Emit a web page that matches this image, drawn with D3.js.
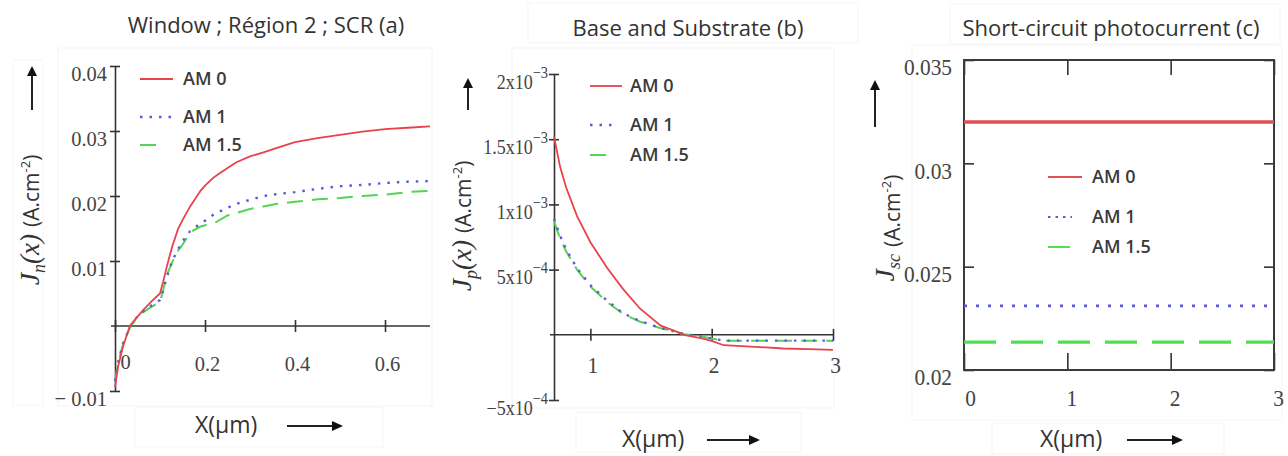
<!DOCTYPE html>
<html>
<head>
<meta charset="utf-8">
<script src="https://cdn.jsdelivr.net/npm/d3@7"></script>
<style>
  html, body { margin: 0; padding: 0; background: #fff; }
  svg { display: block; }
</style>
</head>
<body>
<svg id="chart" width="1288" height="456"></svg>
<script>
// ---- series shared by the three panels ----
const seriesNames = ["AM 0", "AM 1", "AM 1.5"];

// ---- (a) window, region 2 and SCR : electron photocurrent density ----
const xWindow = [0, 0.007, 0.018, 0.033, 0.048, 0.062, 0.08, 0.1, 0.107, 0.115, 0.127, 0.14, 0.15,
  0.167, 0.19, 0.2, 0.22, 0.25, 0.27, 0.3, 0.33, 0.36, 0.4, 0.45, 0.5, 0.55, 0.6, 0.65, 0.7];
const jnAM0 = [-0.0094, -0.0062, -0.0031, 0.0000, 0.0013, 0.0024, 0.0037, 0.0050, 0.0068, 0.0091, 0.0122, 0.0149, 0.0163,
  0.0184, 0.0208, 0.0216, 0.0229, 0.0243, 0.0252, 0.0261, 0.0267, 0.0274, 0.0283, 0.0289, 0.0294, 0.0299, 0.0303, 0.0305, 0.0307];
const jnAM1 = [-0.0085, -0.0055, -0.0027, -0.0002, 0.0013, 0.0022, 0.0031, 0.0040, 0.0055, 0.0075, 0.0100, 0.0118, 0.0130,
  0.0146, 0.0158, 0.0162, 0.0172, 0.0182, 0.0188, 0.0194, 0.0200, 0.0203, 0.0206, 0.0211, 0.0215, 0.0217, 0.0220, 0.0222, 0.0223];
const jnAM15 = [-0.0085, -0.0056, -0.0028, -0.0003, 0.0012, 0.0021, 0.0029, 0.0037, 0.0055, 0.0078, 0.0098, 0.0116, 0.0125,
  0.0144, 0.0153, 0.0155, 0.0158, 0.0170, 0.0174, 0.0180, 0.0184, 0.0188, 0.0191, 0.0195, 0.0197, 0.0200, 0.0202, 0.0206, 0.0208];
const xTicksA = [0, 0.2, 0.4, 0.6];
const yTicksA = [-0.01, 0.01, 0.02, 0.03, 0.04];

// ---- (b) base and substrate : hole photocurrent density ----
const xBase = [0.7, 0.75, 0.8, 0.89, 1.0, 1.14, 1.27, 1.41, 1.58, 1.72, 1.77, 1.93, 2.01, 2.1, 2.32, 2.59, 2.8, 3.0];
const jpAM0 = [1.52e-3, 1.29e-3, 1.13e-3, 0.91e-3, 0.71e-3, 0.51e-3, 0.35e-3, 0.20e-3, 0.07e-3, 0.02e-3, 0,
  -0.03e-3, -0.05e-3, -0.08e-3, -0.09e-3, -0.105e-3, -0.11e-3, -0.115e-3];
const jpAM1 = [0.89e-3, 0.76e-3, 0.655e-3, 0.51e-3, 0.38e-3, 0.26e-3, 0.165e-3, 0.105e-3, 0.052e-3, 0.02e-3, 0.005e-3,
  -0.015e-3, -0.03e-3, -0.045e-3, -0.045e-3, -0.045e-3, -0.045e-3, -0.045e-3];
const jpAM15 = [0.87e-3, 0.74e-3, 0.64e-3, 0.50e-3, 0.37e-3, 0.25e-3, 0.16e-3, 0.10e-3, 0.05e-3, 0.02e-3, 0.005e-3,
  -0.015e-3, -0.03e-3, -0.045e-3, -0.045e-3, -0.045e-3, -0.045e-3, -0.045e-3];
const xTicksB = [1, 2, 3];
const yTicksB = [-5e-4, 5e-4, 1e-3, 1.5e-3, 2e-3];

// ---- (c) short-circuit photocurrent ----
const xJsc = [0, 3];
const jscAM0 = [0.0320, 0.0320];
const jscAM1 = [0.0231, 0.0231];
const jscAM15 = [0.02135, 0.02135];
const xTicksC = [0, 1, 2, 3];
const yTicksC = [0.02, 0.025, 0.03, 0.035];

// ---- styling ----
const colors = ["#e8434b", "#5b5bd9", "#52d552"];
const sansFont = "'Open Sans', Lato, sans-serif";
const serifFont = "'Liberation Serif', 'DejaVu Serif', serif";
const axisColor = "#333";

const svg = d3.select("#chart");
svg.append("rect").attr("width", 1288).attr("height", 456).attr("fill", "#fff");

// faint frames around the pasted panel pieces
const frames = [
  [58, 48, 374, 358], [13, 60, 30, 345], [135, 407, 248, 40],
  [512, 48, 322, 360], [576, 412, 225, 40], [528, 3, 330, 40],
  [912, 45, 370, 375], [992, 423, 232, 31], [950, 4, 330, 40]
];
svg.append("g").selectAll("rect").data(frames).join("rect")
  .attr("x", d => d[0]).attr("y", d => d[1]).attr("width", d => d[2]).attr("height", d => d[3])
  .attr("fill", "none").attr("stroke", "#f5f5f5").attr("stroke-width", 1);

function title(x, y, txt) {
  svg.append("text").attr("x", x).attr("y", y).attr("text-anchor", "middle")
    .attr("font-family", sansFont).attr("font-size", 22).attr("fill", "#333").text(txt);
}

function upArrow(x, y0, y1) {
  svg.append("line").attr("x1", x).attr("x2", x).attr("y1", y0).attr("y2", y1 + 8)
    .attr("stroke", "#222").attr("stroke-width", 2);
  svg.append("path").attr("d", `M${x - 5},${y1 + 10}L${x},${y1}L${x + 5},${y1 + 10}Z`).attr("fill", "#111");
}

function xLabel(x, y, arrowX0, arrowX1) {
  svg.append("text").attr("x", x).attr("y", y).attr("font-family", sansFont)
    .attr("font-size", 23).attr("fill", "#333").text("X(\u00b5m)");
  const ay = y - 7;
  svg.append("line").attr("x1", arrowX0).attr("x2", arrowX1 - 8).attr("y1", ay).attr("y2", ay)
    .attr("stroke", "#222").attr("stroke-width", 2);
  svg.append("path").attr("d", `M${arrowX1 - 11},${ay - 5}L${arrowX1},${ay}L${arrowX1 - 11},${ay + 5}Z`).attr("fill", "#111");
}

// rotated quantity label: italic symbol with subscript, then unit
function yLabel(x, y, sub, withX) {
  const t = svg.append("text").attr("transform", `translate(${x},${y}) rotate(-90)`)
    .attr("text-anchor", "middle").attr("fill", "#333");
  t.append("tspan").attr("font-family", serifFont).attr("font-style", "italic").attr("font-size", 28).text("J");
  t.append("tspan").attr("font-family", serifFont).attr("font-style", "italic").attr("font-size", 18)
    .attr("dy", 6).text(sub);
  t.append("tspan").attr("font-family", serifFont).attr("font-style", "italic").attr("font-size", 27)
    .attr("dy", -6).text(withX ? "(x)" : "");
  t.append("tspan").attr("font-family", sansFont).attr("font-size", 21).attr("dx", 7).text("(A.cm");
  t.append("tspan").attr("font-family", sansFont).attr("font-size", 13).attr("dy", -9).text("-2");
  t.append("tspan").attr("font-family", sansFont).attr("font-size", 21).attr("dy", 9).text(")");
}

function legend(items, x, ys, lens, tx) {
  const g = svg.append("g");
  items.forEach((it, i) => {
    g.append("line").attr("x1", x).attr("x2", x + lens[i]).attr("y1", ys[i]).attr("y2", ys[i])
      .attr("stroke", it.color).attr("stroke-width", it.width).attr("stroke-dasharray", it.dash || null);
    g.append("text").attr("x", tx).attr("y", ys[i]).attr("dy", "0.36em")
      .attr("font-family", sansFont).attr("font-weight", 600).attr("font-size", 18).attr("fill", "#3a3a3a")
      .text(it.name);
  });
}

// serif tick labels, slightly condensed
function styleTickText(sel, anchor, dx, dy, size) {
  sel.selectAll(".tick text").each(function () {
    const t = d3.select(this);
    const tx = +t.attr("x") || 0;
    const ty = +t.attr("y") || 0;
    t.attr("x", 0).attr("y", 0).attr("dy", null)
      .attr("transform", `translate(${tx + dx},${ty + dy}) scale(0.93,1)`)
      .attr("text-anchor", anchor).attr("dominant-baseline", "central")
      .attr("font-family", serifFont).attr("font-size", size).attr("fill", "#444");
  });
}

// ================= (a) =================
{
  const x = d3.scaleLinear().domain([0, 0.7]).range([115, 430]);
  const y = d3.scaleLinear().domain([-0.01, 0.04]).range([391, 66]);

  const gy = svg.append("g").attr("transform", `translate(${x(0)},0)`)
    .call(d3.axisLeft(y).tickValues(yTicksA).tickSizeInner(5).tickSizeOuter(0).tickFormat(d3.format(".2~f")));
  gy.selectAll(".tick line").attr("x1", 5);
  gy.selectAll(".tick text").text(d => d < 0 ? "\u2212 " + d3.format(".2f")(-d) : d3.format(".2f")(d));
  styleTickText(gy, "end", 0, 7, 22);

  const gx = svg.append("g").attr("transform", `translate(0,${y(0)})`)
    .call(d3.axisBottom(x).tickValues(xTicksA).tickSizeInner(6).tickSizeOuter(0).tickFormat(d3.format("~g")));
  gx.selectAll(".tick line").attr("y1", -6);
  gx.select(".domain").attr("d", `M${x(0) - 4},0H${x(0.7)}`);
  styleTickText(gx, "middle", 2, 29, 22);
  gx.selectAll(".tick text").filter(d => d === 0).attr("transform", "translate(10,36) scale(0.93,1)");

  [gx, gy].forEach(g => {
    g.selectAll(".domain, .tick line").attr("stroke", axisColor).attr("stroke-width", 1.6);
  });

  const series = [
    { name: seriesNames[0], v: jnAM0, color: colors[0], width: 1.8 },
    { name: seriesNames[1], v: jnAM1, color: colors[1], width: 2.4, dash: "2.5,7" },
    { name: seriesNames[2], v: jnAM15, color: colors[2], width: 2, dash: "16,9" }
  ];
  const line = d3.line().x((d, i) => x(xWindow[i])).y(d => y(d));
  svg.append("g").selectAll("path").data(series.slice().reverse()).join("path")
    .attr("d", s => line(s.v)).attr("fill", "none").attr("stroke", s => s.color)
    .attr("stroke-width", s => s.width).attr("stroke-dasharray", s => s.dash || null);

  legend(series, 140, [79, 117, 145], [33, 32, 17], 183);
  title(266, 33, "Window ; Région 2 ; SCR (a)");
  upArrow(32, 110, 66);
  yLabel(39, 220, "n", true);
  xLabel(195, 433, 287, 343);
}

// ================= (b) =================
{
  const x = d3.scaleLinear().domain([0.7, 3]).range([554, 833]);
  const y = d3.scaleLinear().domain([-5e-4, 2e-3]).range([400, 74]);

  const gy = svg.append("g").attr("transform", `translate(${x(0.7)},0)`)
    .call(d3.axisLeft(y).tickValues(yTicksB).tickSizeInner(5).tickSizeOuter(0).tickFormat(() => ""));
  gy.selectAll(".tick line").attr("x1", 5);
  gy.selectAll(".tick text").each(function (d) {
    const exp = Math.floor(Math.log10(Math.abs(d)) + 1e-9);
    const man = +(d / Math.pow(10, exp)).toFixed(2);
    const t = d3.select(this).attr("x", null).attr("dy", null)
      .attr("transform", "translate(-6,7) scale(0.9,1)")
      .attr("text-anchor", "end").attr("dominant-baseline", "central")
      .attr("font-family", serifFont).attr("fill", "#444");
    t.append("tspan").attr("font-size", 20).text((man < 0 ? "\u2212" : "") + Math.abs(man) + "x10");
    t.append("tspan").attr("font-size", 16).attr("dy", -10).text("\u2212" + Math.abs(exp));
  });

  const gx = svg.append("g").attr("transform", `translate(0,${y(0)})`)
    .call(d3.axisBottom(x).tickValues(xTicksB).tickSizeInner(6).tickSizeOuter(0).tickFormat(d3.format("d")));
  gx.selectAll(".tick line").attr("y1", -6);
  gx.select(".domain").attr("d", `M${x(0.7) - 4},0H${x(3)}`);
  styleTickText(gx, "middle", 2, 21, 23);

  [gx, gy].forEach(g => {
    g.selectAll(".domain, .tick line").attr("stroke", axisColor).attr("stroke-width", 1.6);
  });

  const series = [
    { name: seriesNames[0], v: jpAM0, color: colors[0], width: 1.8 },
    { name: seriesNames[1], v: jpAM1, color: colors[1], width: 2.4, dash: "2.5,7" },
    { name: seriesNames[2], v: jpAM15, color: colors[2], width: 2, dash: "16,9" }
  ];
  const line = d3.line().x((d, i) => x(xBase[i])).y(d => y(d));
  svg.append("g").selectAll("path").data(series.slice().reverse()).join("path")
    .attr("d", s => line(s.v)).attr("fill", "none").attr("stroke", s => s.color)
    .attr("stroke-width", s => s.width).attr("stroke-dasharray", s => s.dash || null);

  legend(series, 590, [86, 125, 155], [32, 22, 22], 630);
  title(688, 36, "Base and Substrate (b)");
  upArrow(468, 110, 78);
  yLabel(471, 226, "p", true);
  xLabel(622, 447, 707, 760);
}

// ================= (c) =================
{
  const x = d3.scaleLinear().domain([0, 3]).range([964, 1274]);
  const y = d3.scaleLinear().domain([0.02, 0.035]).range([370, 60]);

  const gb = svg.append("g").attr("transform", `translate(0,${y(0.02)})`)
    .call(d3.axisBottom(x).tickValues(xTicksC).tickSizeInner(-17).tickSizeOuter(0).tickFormat(d3.format("d")));
  styleTickText(gb, "middle", 0, 45, 23);
  gb.selectAll(".tick text").attr("transform", d => `translate(${4 + (d === 0 ? 2 : 0)},28) scale(0.93,1)`);
  const gt = svg.append("g").attr("transform", `translate(0,${y(0.035)})`)
    .call(d3.axisTop(x).tickValues(xTicksC).tickSizeInner(-15).tickSizeOuter(0).tickFormat(""));
  const gl = svg.append("g").attr("transform", `translate(${x(0)},0)`)
    .call(d3.axisLeft(y).tickValues(yTicksC).tickSizeInner(-10).tickSizeOuter(0).tickFormat(d3.format("~g")));
  gl.selectAll(".tick text").attr("x", 0);
  styleTickText(gl, "end", -12, 7, 23);
  const gr = svg.append("g").attr("transform", `translate(${x(3)},0)`)
    .call(d3.axisRight(y).tickValues(yTicksC).tickSizeInner(-10).tickSizeOuter(0).tickFormat(""));

  [gb, gt, gl, gr].forEach(g => {
    g.selectAll(".domain").remove();
    g.selectAll(".tick line").attr("stroke", axisColor).attr("stroke-width", 1.6);
  });
  svg.append("rect").attr("x", x(0)).attr("y", y(0.035)).attr("width", x(3) - x(0)).attr("height", y(0.02) - y(0.035))
    .attr("fill", "none").attr("stroke", "#3a3a3a").attr("stroke-width", 2);

  const series = [
    { name: seriesNames[0], v: jscAM0, color: "#e05055", width: 3.5 },
    { name: seriesNames[1], v: jscAM1, color: "#5b5bd9", width: 2.8, dash: "3,9" },
    { name: seriesNames[2], v: jscAM15, color: "#4ee04e", width: 3.2, dash: "32,15" }
  ];
  const line = d3.line().x((d, i) => x(xJsc[i])).y(d => y(d));
  svg.append("g").selectAll("path").data(series).join("path")
    .attr("d", s => line(s.v)).attr("fill", "none").attr("stroke", s => s.color)
    .attr("stroke-width", s => s.width).attr("stroke-dasharray", s => s.dash || null);

  legend([
    { name: seriesNames[0], color: "#e05055", width: 2 },
    { name: seriesNames[1], color: "#5b5bd9", width: 2, dash: "2.5,5" },
    { name: seriesNames[2], color: "#4ee04e", width: 2 }
  ], 1048, [177, 217, 247], [34, 24, 22], 1092);
  title(1111, 36, "Short-circuit photocurrent (c)");
  upArrow(875, 127, 80);
  yLabel(894, 228, "sc", false);
  xLabel(1040, 447, 1127, 1183);
}
</script>
</body>
</html>
